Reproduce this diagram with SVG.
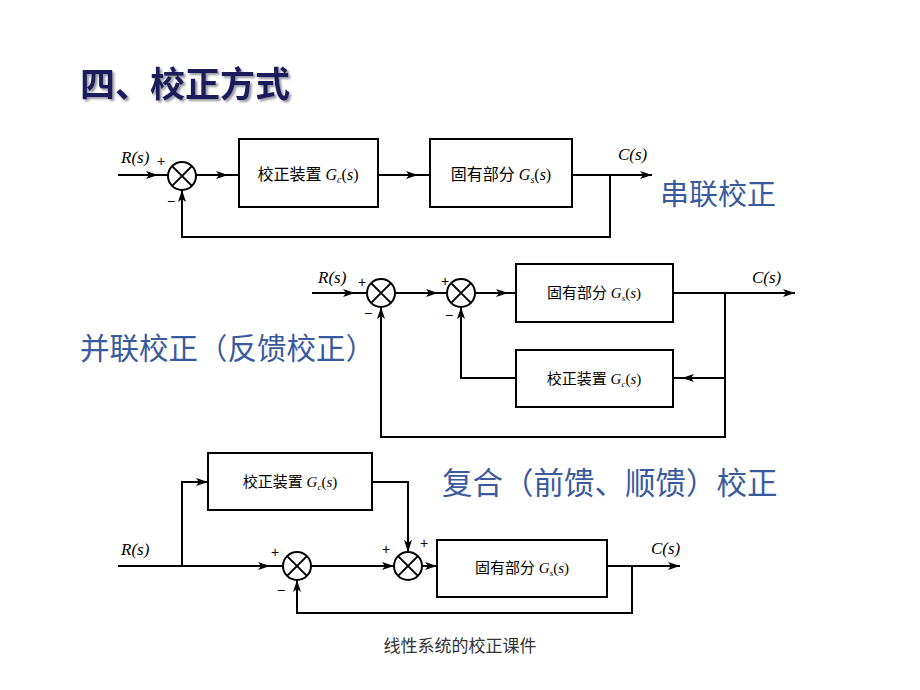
<svg xmlns="http://www.w3.org/2000/svg" width="920" height="690" viewBox="0 0 920 690">
<defs>
<marker id="ah" viewBox="0 0 12 8" refX="12" refY="4" markerWidth="12" markerHeight="8" markerUnits="userSpaceOnUse" orient="auto">
<path d="M0 0 L12 4 L0 8 L3 4 Z" fill="#000"/>
</marker>
<filter id="sh" x="-5%" y="-20%" width="115%" height="150%">
<feDropShadow dx="2" dy="2" stdDeviation="0.8" flood-color="#8a8a99" flood-opacity="0.9"/>
</filter>
<style>
.ln{fill:none;stroke:#000;stroke-width:2}
.mid{marker-mid:url(#ah)}
.end{marker-end:url(#ah)}
.box{fill:#fff;stroke:#000;stroke-width:2}
.sum{fill:#fff;stroke:#000;stroke-width:2}
.x{stroke:#000;stroke-width:2}
.bl{font-family:"Liberation Serif","Noto Sans CJK SC",serif;fill:#000;text-anchor:middle}
.it{font-style:italic}
.sig{font-family:"Liberation Serif",serif;font-style:italic;font-size:17px;fill:#000}
.pm{font-family:"Liberation Sans",sans-serif;font-size:14px;fill:#000}
.cap{font-family:"Noto Sans CJK SC",sans-serif;fill:#3a5a9e}
</style>
</defs>
<rect width="920" height="690" fill="#fff"/>

<g id="title">
<text x="80" y="97" font-family="'Noto Sans CJK SC',sans-serif" font-weight="bold" font-size="35" fill="#1a1a5c" filter="url(#sh)">四、校正方式</text>
</g>

<g id="connectors">
<path class="ln mid" d="M118 175 L158 175 L168 175"/>
<path class="ln mid" d="M196 175 L228 175 L239 175"/>
<path class="ln mid" d="M378 175 L418 175 L430 175"/>
<path class="ln end" d="M572 175 L652 175"/>
<path class="ln end" d="M610 175 L610 237 L182 237 L182 190"/>

<path class="ln mid" d="M312 293 L355 293 L367 293"/>
<path class="ln mid" d="M395 293 L438 293 L447 293"/>
<path class="ln mid" d="M475 293 L508 293 L516 293"/>
<path class="ln end" d="M673 293 L795 293"/>
<path class="ln end" d="M725 293 L725 437 L381 437 L381 307"/>
<path class="ln mid" d="M725 378 L682 378 L673 378"/>
<path class="ln end" d="M516 378 L461 378 L461 307"/>

<path class="ln mid" d="M118 566 L270 566 L283 566"/>
<path class="ln end" d="M182 566 L182 482 L208 482"/>
<path class="ln end" d="M372 482 L408 482 L408 552"/>
<path class="ln end" d="M311 566 L394 566"/>
<path class="ln end" d="M422 566 L437 566"/>
<path class="ln end" d="M607 566 L680 566"/>
<path class="ln end" d="M632 566 L632 613 L297 613 L297 580"/>
</g>

<g id="d1-sum">
<circle class="sum" cx="182" cy="176" r="14"/>
<path class="x" d="M172.1 166.1 L191.9 185.9 M191.9 166.1 L172.1 185.9"/>
<text class="sig" x="121" y="163">R(s)</text>
<text class="pm" x="157" y="166">+</text>
<text class="pm" x="167" y="206">−</text>
<text class="sig" x="618" y="160">C(s)</text>
</g>
<g id="d1-gc">
<rect class="box" x="239" y="139" width="139" height="68"/>
<text class="bl" x="308" y="180" font-size="16">校正装置 <tspan class="it">G</tspan><tspan font-size="10" dy="3" class="it">c</tspan><tspan dy="-3">(</tspan><tspan class="it">s</tspan>)</text>
</g>
<g id="d1-gs">
<rect class="box" x="430" y="139" width="142" height="68"/>
<text class="bl" x="501" y="180" font-size="16">固有部分 <tspan class="it">G</tspan><tspan font-size="10" dy="3" class="it">s</tspan><tspan dy="-3">(</tspan><tspan class="it">s</tspan>)</text>
</g>
<g id="cap1"><text class="cap" x="660" y="205" font-size="29">串联校正</text></g>

<g id="d2-sum1">
<circle class="sum" cx="381" cy="293" r="14"/>
<path class="x" d="M371.1 283.1 L390.9 302.9 M390.9 283.1 L371.1 302.9"/>
<text class="sig" x="318" y="283" font-size="16">R(s)</text>
<text class="pm" x="358" y="287">+</text>
<text class="pm" x="364" y="318">−</text>
</g>
<g id="d2-sum2">
<circle class="sum" cx="461" cy="293" r="14"/>
<path class="x" d="M451.1 283.1 L470.9 302.9 M470.9 283.1 L451.1 302.9"/>
<text class="pm" x="441" y="286">+</text>
<text class="pm" x="445" y="320">−</text>
</g>
<g id="d2-gs">
<rect class="box" x="516" y="264" width="157" height="58"/>
<text class="bl" x="594" y="298" font-size="15">固有部分 <tspan class="it">G</tspan><tspan font-size="9" dy="3" class="it">s</tspan><tspan dy="-3">(</tspan><tspan class="it">s</tspan>)</text>
<text class="sig" x="752" y="283" font-size="16">C(s)</text>
</g>
<g id="d2-gc">
<rect class="box" x="516" y="350" width="157" height="57"/>
<text class="bl" x="594" y="384" font-size="15">校正装置 <tspan class="it">G</tspan><tspan font-size="9" dy="3" class="it">c</tspan><tspan dy="-3">(</tspan><tspan class="it">s</tspan>)</text>
</g>
<g id="cap2"><text class="cap" x="80" y="359" font-size="29.5">并联校正（反馈校正）</text></g>

<g id="d3-gc">
<rect class="box" x="208" y="453" width="164" height="57"/>
<text class="bl" x="290" y="487" font-size="15">校正装置 <tspan class="it">G</tspan><tspan font-size="9" dy="3" class="it">c</tspan><tspan dy="-3">(</tspan><tspan class="it">s</tspan>)</text>
</g>
<g id="cap3"><text class="cap" x="442" y="494" font-size="30.5">复合（前馈、顺馈）校正</text></g>
<g id="d3-sumA">
<circle class="sum" cx="297" cy="566" r="14"/>
<path class="x" d="M287.1 556.1 L306.9 575.9 M306.9 556.1 L287.1 575.9"/>
<text class="sig" x="121" y="555" font-size="16">R(s)</text>
<text class="pm" x="271" y="557">+</text>
<text class="pm" x="277" y="595">−</text>
</g>
<g id="d3-sumB">
<circle class="sum" cx="408" cy="566" r="14"/>
<path class="x" d="M398.1 556.1 L417.9 575.9 M417.9 556.1 L398.1 575.9"/>
<text class="pm" x="382" y="554">+</text>
<text class="pm" x="420" y="548">+</text>
</g>
<g id="d3-gs">
<rect class="box" x="437" y="540" width="170" height="57"/>
<text class="bl" x="522" y="573" font-size="15">固有部分 <tspan class="it">G</tspan><tspan font-size="9" dy="3" class="it">s</tspan><tspan dy="-3">(</tspan><tspan class="it">s</tspan>)</text>
<text class="sig" x="651" y="554" font-size="16">C(s)</text>
</g>

<g id="footer"><text x="460" y="652" text-anchor="middle" font-family="'Noto Sans CJK SC',sans-serif" font-size="17" fill="#333">线性系统的校正课件</text></g>
</svg>
